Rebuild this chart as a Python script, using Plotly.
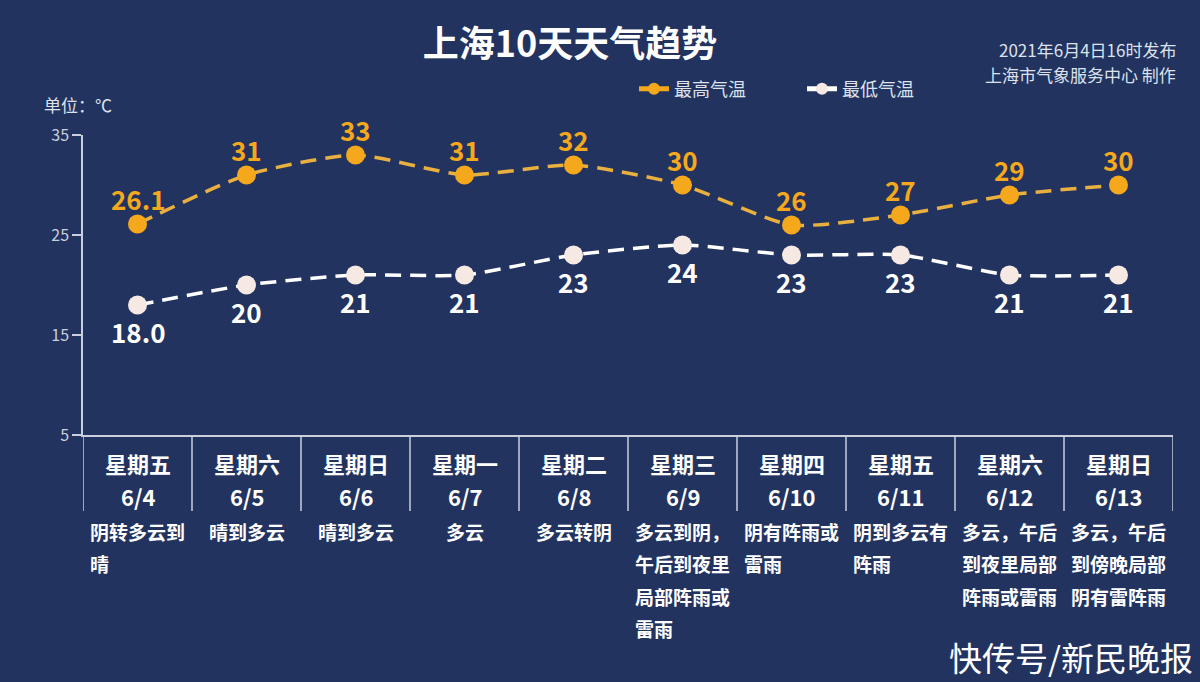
import plotly.graph_objects as go

# ---------------- data ----------------
weekdays = ["星期五", "星期六", "星期日", "星期一", "星期二", "星期三", "星期四", "星期五", "星期六", "星期日"]
dates = ["6/4", "6/5", "6/6", "6/7", "6/8", "6/9", "6/10", "6/11", "6/12", "6/13"]
high_temp = [26.1, 31, 33, 31, 32, 30, 26, 27, 29, 30]
high_text = ["26.1", "31", "33", "31", "32", "30", "26", "27", "29", "30"]
low_temp = [18.0, 20, 21, 21, 23, 24, 23, 23, 21, 21]
low_text = ["18.0", "20", "21", "21", "23", "24", "23", "23", "21", "21"]
weather = [
    ["阴转多云到", "晴"],
    ["晴到多云"],
    ["晴到多云"],
    ["多云"],
    ["多云转阴"],
    ["多云到阴，", "午后到夜里", "局部阵雨或", "雷雨"],
    ["阴有阵雨或", "雷雨"],
    ["阴到多云有", "阵雨"],
    ["多云，午后", "到夜里局部", "阵雨或雷雨"],
    ["多云，午后", "到傍晚局部", "阴有雷阵雨"],
]
y_ticks = [5, 15, 25, 35]

# ---------------- layout constants ----------------
FIG_W, FIG_H = 1200, 682
L, R, T, B = 83, 27, 135, 247
PW, PH = FIG_W - L - R, FIG_H - T - B
BG = "#22335f"
GRID = "#c9cfdc"
ORANGE = "#f5a81c"
ORANGE_LINE = "#e9b040"
LOWC = "#f6e9e3"
FONT = "Noto Sans CJK SC"


def px_x(px):
    return (px - L) / PW


def px_y(py):
    return (FIG_H - B - py) / PH


x = list(range(len(dates)))

fig = go.Figure()
fig.add_trace(go.Scatter(
    x=x, y=high_temp, name="最高气温", mode="lines+markers", showlegend=False,
    line=dict(color=ORANGE_LINE, width=3.5, dash="16px,9px", shape="spline", smoothing=0.6),
    marker=dict(color=ORANGE, size=19, line=dict(width=0)),
))
fig.add_trace(go.Scatter(
    x=x, y=low_temp, name="最低气温", mode="lines+markers", showlegend=False,
    line=dict(color="#ffffff", width=3.5, dash="16px,9px", shape="spline", smoothing=0.6),
    marker=dict(color=LOWC, size=19, line=dict(width=0)),
))
# legend entries (solid symbol as in the reference legend)
fig.add_trace(go.Scatter(
    x=[None], y=[None], name="最高气温", mode="lines+markers",
    line=dict(color=ORANGE, width=3.5), marker=dict(color=ORANGE, size=18),
))
fig.add_trace(go.Scatter(
    x=[None], y=[None], name="最低气温", mode="lines+markers",
    line=dict(color="#ffffff", width=3.5), marker=dict(color=LOWC, size=18),
))

ann = []
# value labels
for i, (v, t) in enumerate(zip(high_temp, high_text)):
    ann.append(dict(x=i, y=v, xref="x", yref="y", text=f"<b>{t}</b>", showarrow=False,
                    yshift=26, yanchor="middle",
                    font=dict(family=FONT, size=26, color=ORANGE)))
for i, (v, t) in enumerate(zip(low_temp, low_text)):
    ann.append(dict(x=i, y=v, xref="x", yref="y", text=f"<b>{t}</b>", showarrow=False,
                    yshift=-26, yanchor="middle",
                    font=dict(family=FONT, size=26, color="#ffffff")))

# table: weekday, date, weather description
for i in range(len(dates)):
    ann.append(dict(x=i, y=px_y(463), xref="x", yref="paper", text=f"<b>{weekdays[i]}</b>",
                    showarrow=False, xanchor="center", yanchor="middle",
                    font=dict(family=FONT, size=22, color="#ffffff")))
    ann.append(dict(x=i, y=px_y(496), xref="x", yref="paper", text=f"<b>{dates[i]}</b>",
                    showarrow=False, xanchor="center", yanchor="middle",
                    font=dict(family=FONT, size=22, color="#ffffff")))
    lines = weather[i]
    for k, ln in enumerate(lines):
        yy = px_y(531 + 32.5 * k)
        if len(lines) == 1:
            ann.append(dict(x=i, y=yy, xref="x", yref="paper", text=f"<b>{ln}</b>",
                            xanchor="center", yanchor="middle", showarrow=False,
                            font=dict(family=FONT, size=19, color="#ffffff")))
        else:
            ann.append(dict(x=i - 0.5 + 5 / 109, y=yy, xref="x", yref="paper", text=f"<b>{ln}</b>",
                            xanchor="left", yanchor="middle", showarrow=False,
                            font=dict(family=FONT, size=19, color="#ffffff")))

# header texts
ann.append(dict(x=px_x(1178), y=px_y(50), xref="paper", yref="paper", xanchor="right",
                yanchor="middle", text="2021年6月4日16时发布", showarrow=False,
                font=dict(family=FONT, size=17, color="#dde2ec")))
ann.append(dict(x=px_x(1178), y=px_y(74), xref="paper", yref="paper", xanchor="right",
                yanchor="middle", text="上海市气象服务中心 制作", showarrow=False,
                font=dict(family=FONT, size=17, color="#dde2ec")))
ann.append(dict(x=px_x(42), y=px_y(104), xref="paper", yref="paper", xanchor="left",
                yanchor="middle", text="单位：℃", showarrow=False,
                font=dict(family=FONT, size=17, color="#dde2ec")))
ann.append(dict(x=px_x(1195), y=px_y(657), xref="paper", yref="paper", xanchor="right",
                yanchor="middle", text="快传号/新民晚报", showarrow=False,
                font=dict(family=FONT, size=33, color="#ffffff")))

# table grid lines
shapes = []
for i in range(len(dates) + 1):
    shapes.append(dict(type="line", xref="x", yref="paper", x0=i - 0.5, x1=i - 0.5,
                       y0=0, y1=px_y(511), line=dict(color=GRID, width=1.5)))

fig.update_layout(
    width=FIG_W, height=FIG_H,
    paper_bgcolor=BG, plot_bgcolor=BG,
    margin=dict(l=L, r=R, t=T, b=B),
    title=dict(text="<b>上海10天天气趋势</b>", x=570 / FIG_W, xanchor="center",
               y=1 - 44 / FIG_H, yanchor="middle",
               font=dict(family=FONT, size=36, color="#ffffff")),
    font=dict(family=FONT, color="#dde2ec"),
    showlegend=True,
    legend=dict(orientation="h", x=px_x(634), y=px_y(89), xanchor="left", yanchor="middle",
                bgcolor="rgba(0,0,0,0)", font=dict(family=FONT, size=18, color="#dde2ec"),
                entrywidth=123, entrywidthmode="pixels", itemsizing="constant"),
    xaxis=dict(range=[-0.5, len(dates) - 0.5], showgrid=False, zeroline=False,
               showticklabels=False, ticks="", showline=True, linecolor=GRID, linewidth=1.5,
               fixedrange=True),
    yaxis=dict(range=[5, 35], tickvals=y_ticks, ticktext=[str(t) for t in y_ticks],
               showgrid=False, zeroline=False, showline=True, linecolor=GRID, linewidth=1.5,
               ticks="outside", ticklen=9, tickcolor=GRID, tickwidth=1.5,
               tickfont=dict(family=FONT, size=16, color="#c8cedb"), fixedrange=True),
    annotations=ann,
    shapes=shapes,
)

fig.write_html("out.html")
